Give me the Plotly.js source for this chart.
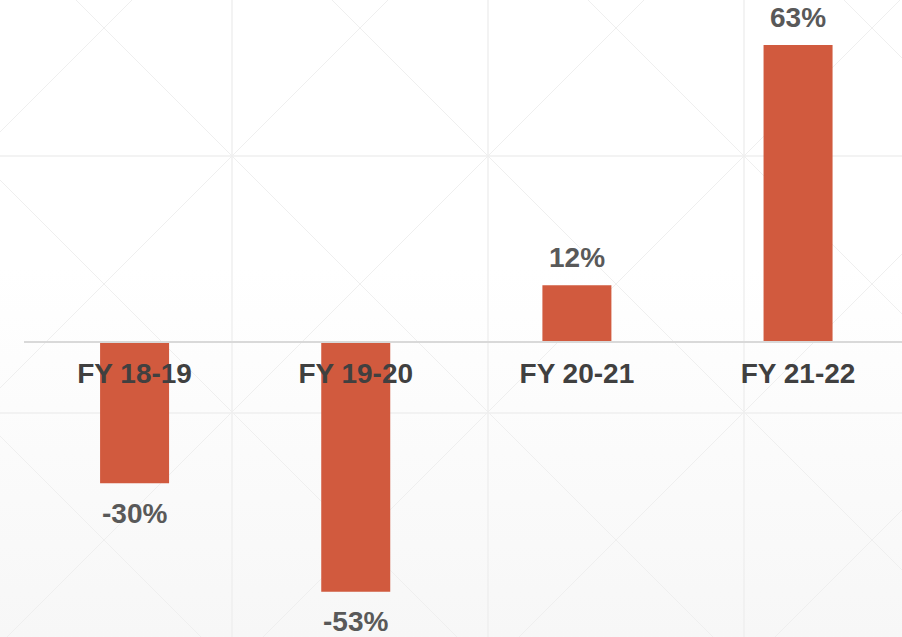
<!DOCTYPE html>
<html>
<head>
<meta charset="utf-8">
<script src="https://cdn.plot.ly/plotly-3.0.1.min.js"></script>
<style>
  html, body { margin: 0; padding: 0; }
  body { width: 902px; height: 637px; overflow: hidden;
         background: linear-gradient(to bottom, #ffffff 0%, #ffffff 42%, #f7f7f7 100%); }
  #chart { width: 902px; height: 637px; }
</style>
</head>
<body>
<div id="chart"></div>
<script>
const categories = ['FY 18-19', 'FY 19-20', 'FY 20-21', 'FY 21-22'];
const growth = [-30, -53, 12, 63];
const valueLabels = growth.map(v => v + '%');

const W = 902, H = 637, ML = 24;
const PW = W - ML;
const fontFamily = 'Liberation Sans, Arial, sans-serif';

// background decorative pattern (pixel -> paper helpers)
const px = x => (x - ML) / PW;
const py = y => 1 - y / H;
const patternColor = '#efefef';
const shapes = [];
[232, 488, 744].forEach(x => shapes.push({type: 'line', xref: 'paper', yref: 'paper', layer: 'below',
  x0: px(x), x1: px(x), y0: py(-10), y1: py(H + 10), line: {color: patternColor, width: 1.5}}));
[156, 413].forEach(y => shapes.push({type: 'line', xref: 'paper', yref: 'paper', layer: 'below',
  x0: px(-10), x1: px(W + 10), y0: py(y), y1: py(y), line: {color: patternColor, width: 1.5}}));
for (let k = -2; k <= 3; k++) {
  const c = 76 + 256 * k; // x - y = c
  shapes.push({type: 'line', xref: 'paper', yref: 'paper', layer: 'below',
    x0: px(c - 50), y0: py(-50), x1: px(c + 700), y1: py(700), line: {color: patternColor, width: 1}});
}
for (let k = -1; k <= 4; k++) {
  const c = 388 + 256 * k; // x + y = c
  shapes.push({type: 'line', xref: 'paper', yref: 'paper', layer: 'below',
    x0: px(c + 50), y0: py(-50), x1: px(c - 700), y1: py(700), line: {color: patternColor, width: 1}});
}

const annotations = growth.map((v, i) => ({
  x: categories[i], y: v, xref: 'x', yref: 'y', text: valueLabels[i], showarrow: false,
  yanchor: 'middle', yshift: v >= 0 ? 27.5 : -30,
  font: {family: fontFamily, size: 28, color: '#595959', weight: 'bold'}
}));

const data = [{
  type: 'bar', x: categories, y: growth,
  marker: {color: '#D15A3E'},
  hoverinfo: 'skip'
}];

const layout = {
  width: W, height: H,
  margin: {l: ML, r: 0, t: 0, b: 0},
  paper_bgcolor: 'rgba(0,0,0,0)', plot_bgcolor: 'rgba(0,0,0,0)',
  showlegend: false,
  bargap: 0.688,
  xaxis: {
    type: 'category', range: [-0.5, 3.47], anchor: 'free', position: 1 - 341.5 / H,
    showline: true, linecolor: '#d9d9d9', linewidth: 2,
    ticks: '', showgrid: false, zeroline: false, ticklabelstandoff: 7,
    tickfont: {family: fontFamily, size: 28, color: '#404040', weight: 'bold'}
  },
  yaxis: {
    range: [-62.62, 72.55], showgrid: false, zeroline: false, showticklabels: false, showline: false
  },
  shapes: shapes,
  annotations: annotations
};

Plotly.newPlot('chart', data, layout, {staticPlot: true, displayModeBar: false});
</script>
</body>
</html>
